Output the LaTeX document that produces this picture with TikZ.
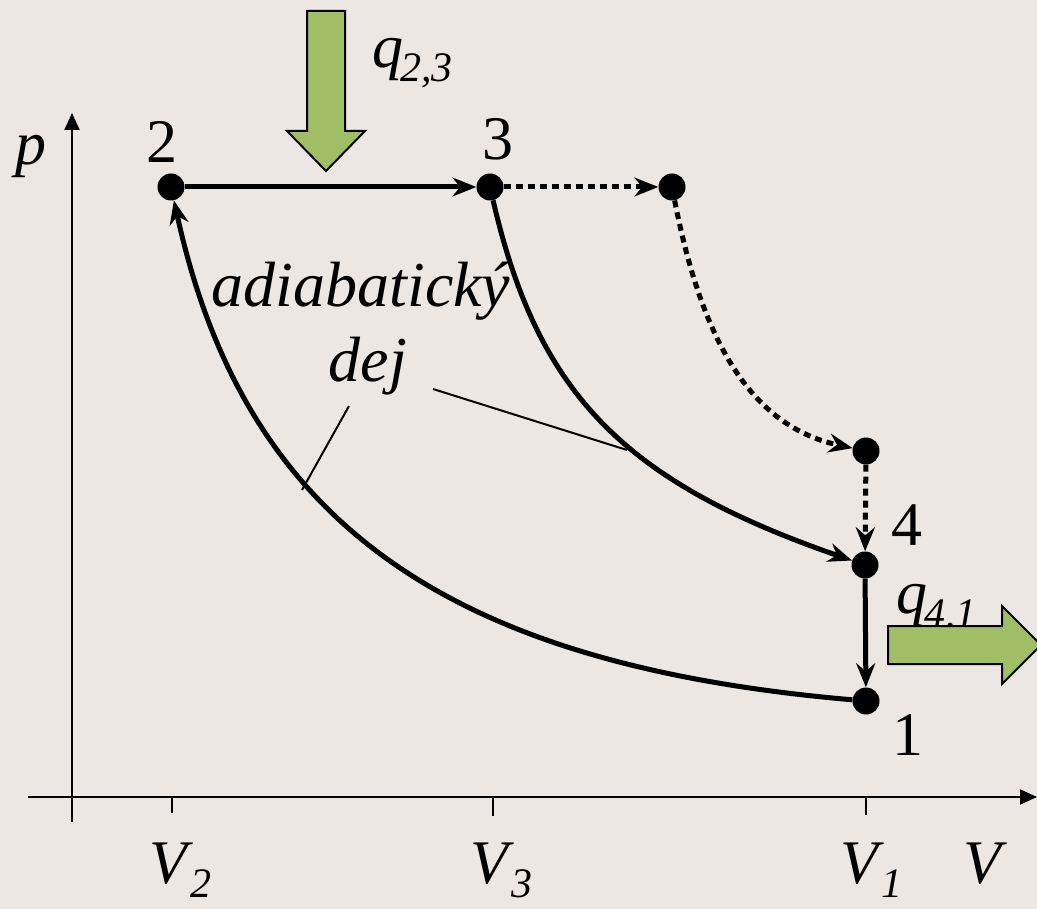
\documentclass[tikz,border=0pt]{standalone}
\usepackage{fontspec}
\setmainfont{Liberation Serif}
\usetikzlibrary{arrows.meta}
\definecolor{bg}{HTML}{ECE7E3}
\definecolor{grn}{HTML}{9FBE66}
\newcommand{\bigtxt}{\fontsize{62}{70}\selectfont}
\newcommand{\subtxt}{\fontsize{42}{46}\selectfont}
\newcommand{\lbl}[2]{\textit{#1}\kern-3pt\raisebox{-14pt}{\subtxt\textit{#2}}}
\begin{document}
\begin{tikzpicture}[x=1pt,y=-1pt,
  pt/.style={circle,fill=black,inner sep=0pt,minimum size=27pt},
  main/.style={line width=5pt,-{Stealth[length=24pt,width=19pt,inset=8pt]}},
  dotline/.style={main,dash pattern=on 7pt off 5pt},
  axis/.style={line width=2pt,-{Triangle[length=17pt,width=15pt]}},
  tick/.style={line width=1.6pt},
  thinline/.style={line width=2pt},
  txt/.style={inner sep=0pt,font=\bigtxt},
  heat/.style={fill=grn,draw=black,line width=2pt,line join=miter}]
\fill[bg] (0,0) rectangle (1037,909);
\useasboundingbox (0,0) rectangle (1037,909);

% axes
\coordinate (yb) at (72,822);
\coordinate (yt) at (72,113);
\coordinate (xl) at (28,797);
\coordinate (xr) at (1037,797);
\draw[axis] (yb) -- (yt);
\draw[axis] (xl) -- (xr);
\draw[tick] (172,797) -- (172,813);
\draw[tick] (493,797) -- (493,816);
\draw[tick] (866,797) -- (866,815);

% axis labels
\node[txt,anchor=base] (plab) at (31,165) {\textit{p}};
\node[txt,anchor=base west] (v2) at (149,883) {\lbl{V}{2}};
\node[txt,anchor=base west] (v3) at (470,883) {\lbl{V}{3}};
\node[txt,anchor=base west] (v1) at (840,883) {\lbl{V}{1}};
\node[txt,anchor=base west] (vv) at (963,883) {\textit{V}};

% points
\node[pt] (p2) at (171,187) {};
\node[pt] (p3) at (490,187) {};
\node[pt] (p3b) at (672,187) {};
\node[pt] (p4b) at (866,451) {};
\node[pt] (p4) at (865,565) {};
\node[pt] (p1) at (866,701) {};

% point labels
\node[txt,anchor=base] (n2) at (162,163) {2};
\node[txt,anchor=base] (n3) at (498,160) {3};
\node[txt,anchor=base] (n4) at (907,545) {4};
\node[txt,anchor=base] (n1) at (908,755) {1};

% cycle
\draw[main] (p2) -- (p3);
\draw[main] (p3) .. controls (538,395) and (625,482) .. (p4);
\draw[main] (p4) -- (p1);
\draw[main] (p1) .. controls (450,665) and (245,525) .. (p2);

% dotted alternative
\draw[dotline] (p3) -- (p3b);
\draw[dotline] (p3b) .. controls (700,330) and (745,425) .. (p4b);
\draw[dotline] (p4b) -- (p4);

% adiabatic label
\node[txt,anchor=base] (adia) at (361,307) {\fontsize{64}{70}\selectfont\textit{adiabatický}};
\node[txt,anchor=base] (dej) at (368,382) {\fontsize{64}{70}\selectfont\textit{dej}};
\coordinate (c1) at (349,406);
\coordinate (c2) at (302,490);
\coordinate (c3) at (433,389);
\coordinate (c4) at (627,450);
\draw[thinline] (c1) -- (c2);
\draw[thinline] (c3) -- (c4);

% heat in
\node[txt,anchor=base west] (q23) at (372,68) {\lbl{q}{2,3}};
\draw[heat] (307,11) -- (345,11) -- (345,131) -- (365,131) -- (326,171) -- (287,131) -- (307,131) -- cycle;

% heat out
\node[txt,anchor=base west] (q41) at (896,613) {\lbl{q}{4,1}};
\draw[heat] (888,626) -- (1002,626) -- (1002,606) -- (1041,645) -- (1002,684) -- (1002,664) -- (888,664) -- cycle;
\end{tikzpicture}
\end{document}
